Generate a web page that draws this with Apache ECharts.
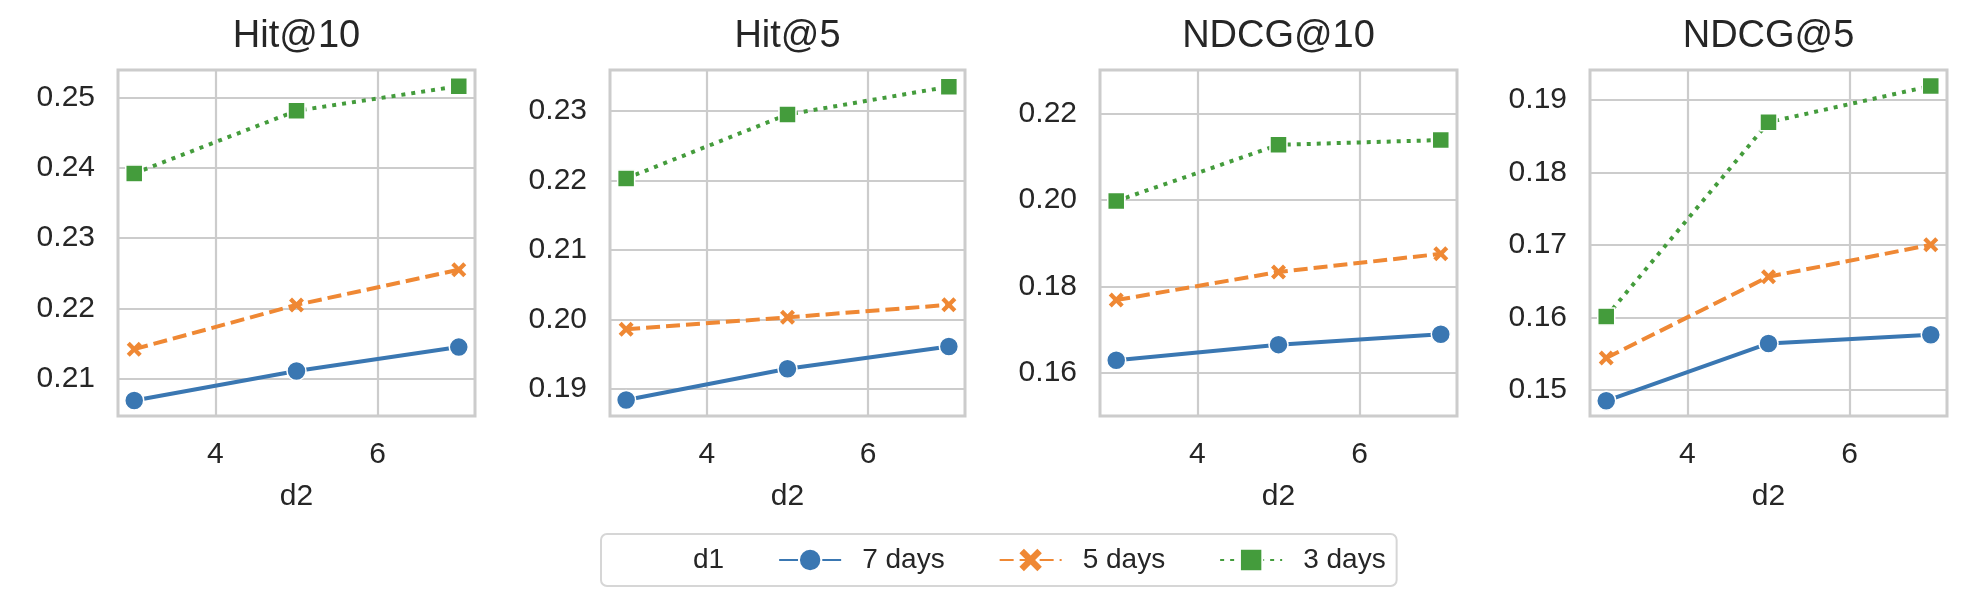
<!doctype html>
<html lang="en">
<head>
    <meta charset="UTF-8">
    <title>d1 / d2 sensitivity</title>
    <style>
        *{
            margin:0;
            padding:0;
        }
        html,body {
            width:1970px;
            height:602px;
            background:#fff;
        }
        #main{
            width:1970px;
            height:602px;
        }
    </style>
</head>
<body>

<div id="main"></div>
<script src="https://cdn.jsdelivr.net/npm/echarts@6/dist/echarts.min.js"></script>
<script>

    // d2 values on the x axis
    var d2 = [3, 5, 7];
    var seriesNames = ['7 days', '5 days', '3 days'];
    var panelTitles = ['Hit@10', 'Hit@5', 'NDCG@10', 'NDCG@5'];

    // values, one array per d1 setting
    var hit10_7 = [0.2069, 0.2111, 0.2145];
    var hit10_5 = [0.2142, 0.2205, 0.2255];
    var hit10_3 = [0.2392, 0.2481, 0.2516];

    var hit5_7 = [0.1884, 0.1929, 0.1961];
    var hit5_5 = [0.1986, 0.2003, 0.2021];
    var hit5_3 = [0.2203, 0.2295, 0.2335];

    var ndcg10_7 = [0.1629, 0.1665, 0.1689];
    var ndcg10_5 = [0.1768, 0.1833, 0.1875];
    var ndcg10_3 = [0.1997, 0.2127, 0.2138];

    var ndcg5_7 = [0.1485, 0.1564, 0.1576];
    var ndcg5_5 = [0.1544, 0.1656, 0.1700];
    var ndcg5_3 = [0.1601, 0.1869, 0.1919];

    // tick labels
    var xTicks = [4, 6];
    var yTicks = [
        [0.21, 0.22, 0.23, 0.24, 0.25],
        [0.19, 0.20, 0.21, 0.22, 0.23],
        [0.16, 0.18, 0.20, 0.22],
        [0.15, 0.16, 0.17, 0.18, 0.19]
    ];
    var yMin = [0.2047, 0.1861, 0.15, 0.1464];
    var yMax = [0.2539, 0.2359, 0.23, 0.1941];

    var panelData = [
        [hit10_7, hit10_5, hit10_3],
        [hit5_7, hit5_5, hit5_3],
        [ndcg10_7, ndcg10_5, ndcg10_3],
        [ndcg5_7, ndcg5_5, ndcg5_3]
    ];

    var FONT = '"Liberation Sans", Arial, sans-serif';
    var TEXT = '#262626';
    var GRIDC = '#cccccc';

    var colors = ['#3a77b2', '#ef8834', '#449c3c'];
    var symbols = [
        'circle',
        'path://M0,2 L2,0 L5,3 L8,0 L10,2 L7,5 L10,8 L8,10 L5,7 L2,10 L0,8 L3,5 Z',
        'rect'
    ];
    var symbolSizes = [19, 15, 17];
    var lineTypes = ['solid', [14, 6], [4, 6]];

    var lefts = [118, 610, 1100, 1590];
    var widths = [357, 355, 357, 357];

    var grids = [], xAxes = [], yAxes = [], titles = [], series = [];

    for (var p = 0; p < 4; p++) {
        grids.push({
            left: lefts[p],
            top: 70,
            width: widths[p],
            height: 346,
            show: true,
            borderColor: GRIDC,
            borderWidth: 3,
            backgroundColor: '#fff'
        });
        titles.push({
            text: panelTitles[p],
            left: lefts[p] + widths[p] / 2,
            top: 18,
            padding: 0,
            textAlign: 'center',
            textStyle: {fontFamily: FONT, fontSize: 38, fontWeight: 'normal', color: TEXT}
        });
        xAxes.push({
            type: 'value',
            gridIndex: p,
            min: 2.8,
            max: 7.2,
            name: 'd2',
            nameLocation: 'middle',
            nameGap: 66,
            nameTextStyle: {fontFamily: FONT, fontSize: 30, color: TEXT},
            axisLine: {show: false},
            axisTick: {show: false, customValues: xTicks},
            axisLabel: {
                customValues: xTicks,
                margin: 24,
                fontFamily: FONT,
                fontSize: 30,
                color: TEXT,
                formatter: function (v) { return String(v); }
            },
            splitLine: {show: true, lineStyle: {color: GRIDC, width: 2.2}}
        });
        yAxes.push({
            type: 'value',
            gridIndex: p,
            min: yMin[p],
            max: yMax[p],
            axisLine: {show: false},
            axisTick: {show: false, customValues: yTicks[p]},
            axisLabel: {
                customValues: yTicks[p],
                margin: 23,
                fontFamily: FONT,
                fontSize: 30,
                color: TEXT,
                formatter: function (v) { return v.toFixed(2); }
            },
            splitLine: {show: true, lineStyle: {color: GRIDC, width: 2.2}}
        });

        for (var s = 0; s < 3; s++) {
            var vals = panelData[p][s];
            series.push({
                name: seriesNames[s],
                type: 'line',
                xAxisIndex: p,
                yAxisIndex: p,
                data: d2.map(function (x, i) { return [x, vals[i]]; }),
                symbol: symbols[s],
                symbolSize: symbolSizes[s],
                showAllSymbol: true,
                color: colors[s],
                lineStyle: {width: 4, type: lineTypes[s], color: colors[s]},
                itemStyle: {color: colors[s], borderColor: '#fff', borderWidth: s === 1 ? 0 : 1.5},
                emphasis: {disabled: true},
                animation: false
            });
        }
    }

    // empty series so the legend can carry its "d1" title like seaborn does
    series.push({name: 'd1', type: 'line', xAxisIndex: 0, yAxisIndex: 0, data: []});

    var myChart = echarts.init(document.getElementById('main'), null, {renderer: 'canvas'});

    myChart.setOption({
        backgroundColor: '#fff',
        animation: false,
        title: titles,
        grid: grids,
        xAxis: xAxes,
        yAxis: yAxes,
        legend: {
            left: 601,
            top: 534,
            orient: 'horizontal',
            padding: [12, 11, 12, 9],
            itemWidth: 62,
            itemHeight: 28,
            itemGap: 54,
            borderColor: '#d6d6d6',
            borderWidth: 2,
            borderRadius: 6,
            selectedMode: false,
            textStyle: {fontFamily: FONT, fontSize: 28, color: TEXT, padding: [0, 0, 0, 16]},
            data: [{name: 'd1', icon: 'none'}].concat(seriesNames)
        },
        series: series
    });

</script>
</body>
</html>
